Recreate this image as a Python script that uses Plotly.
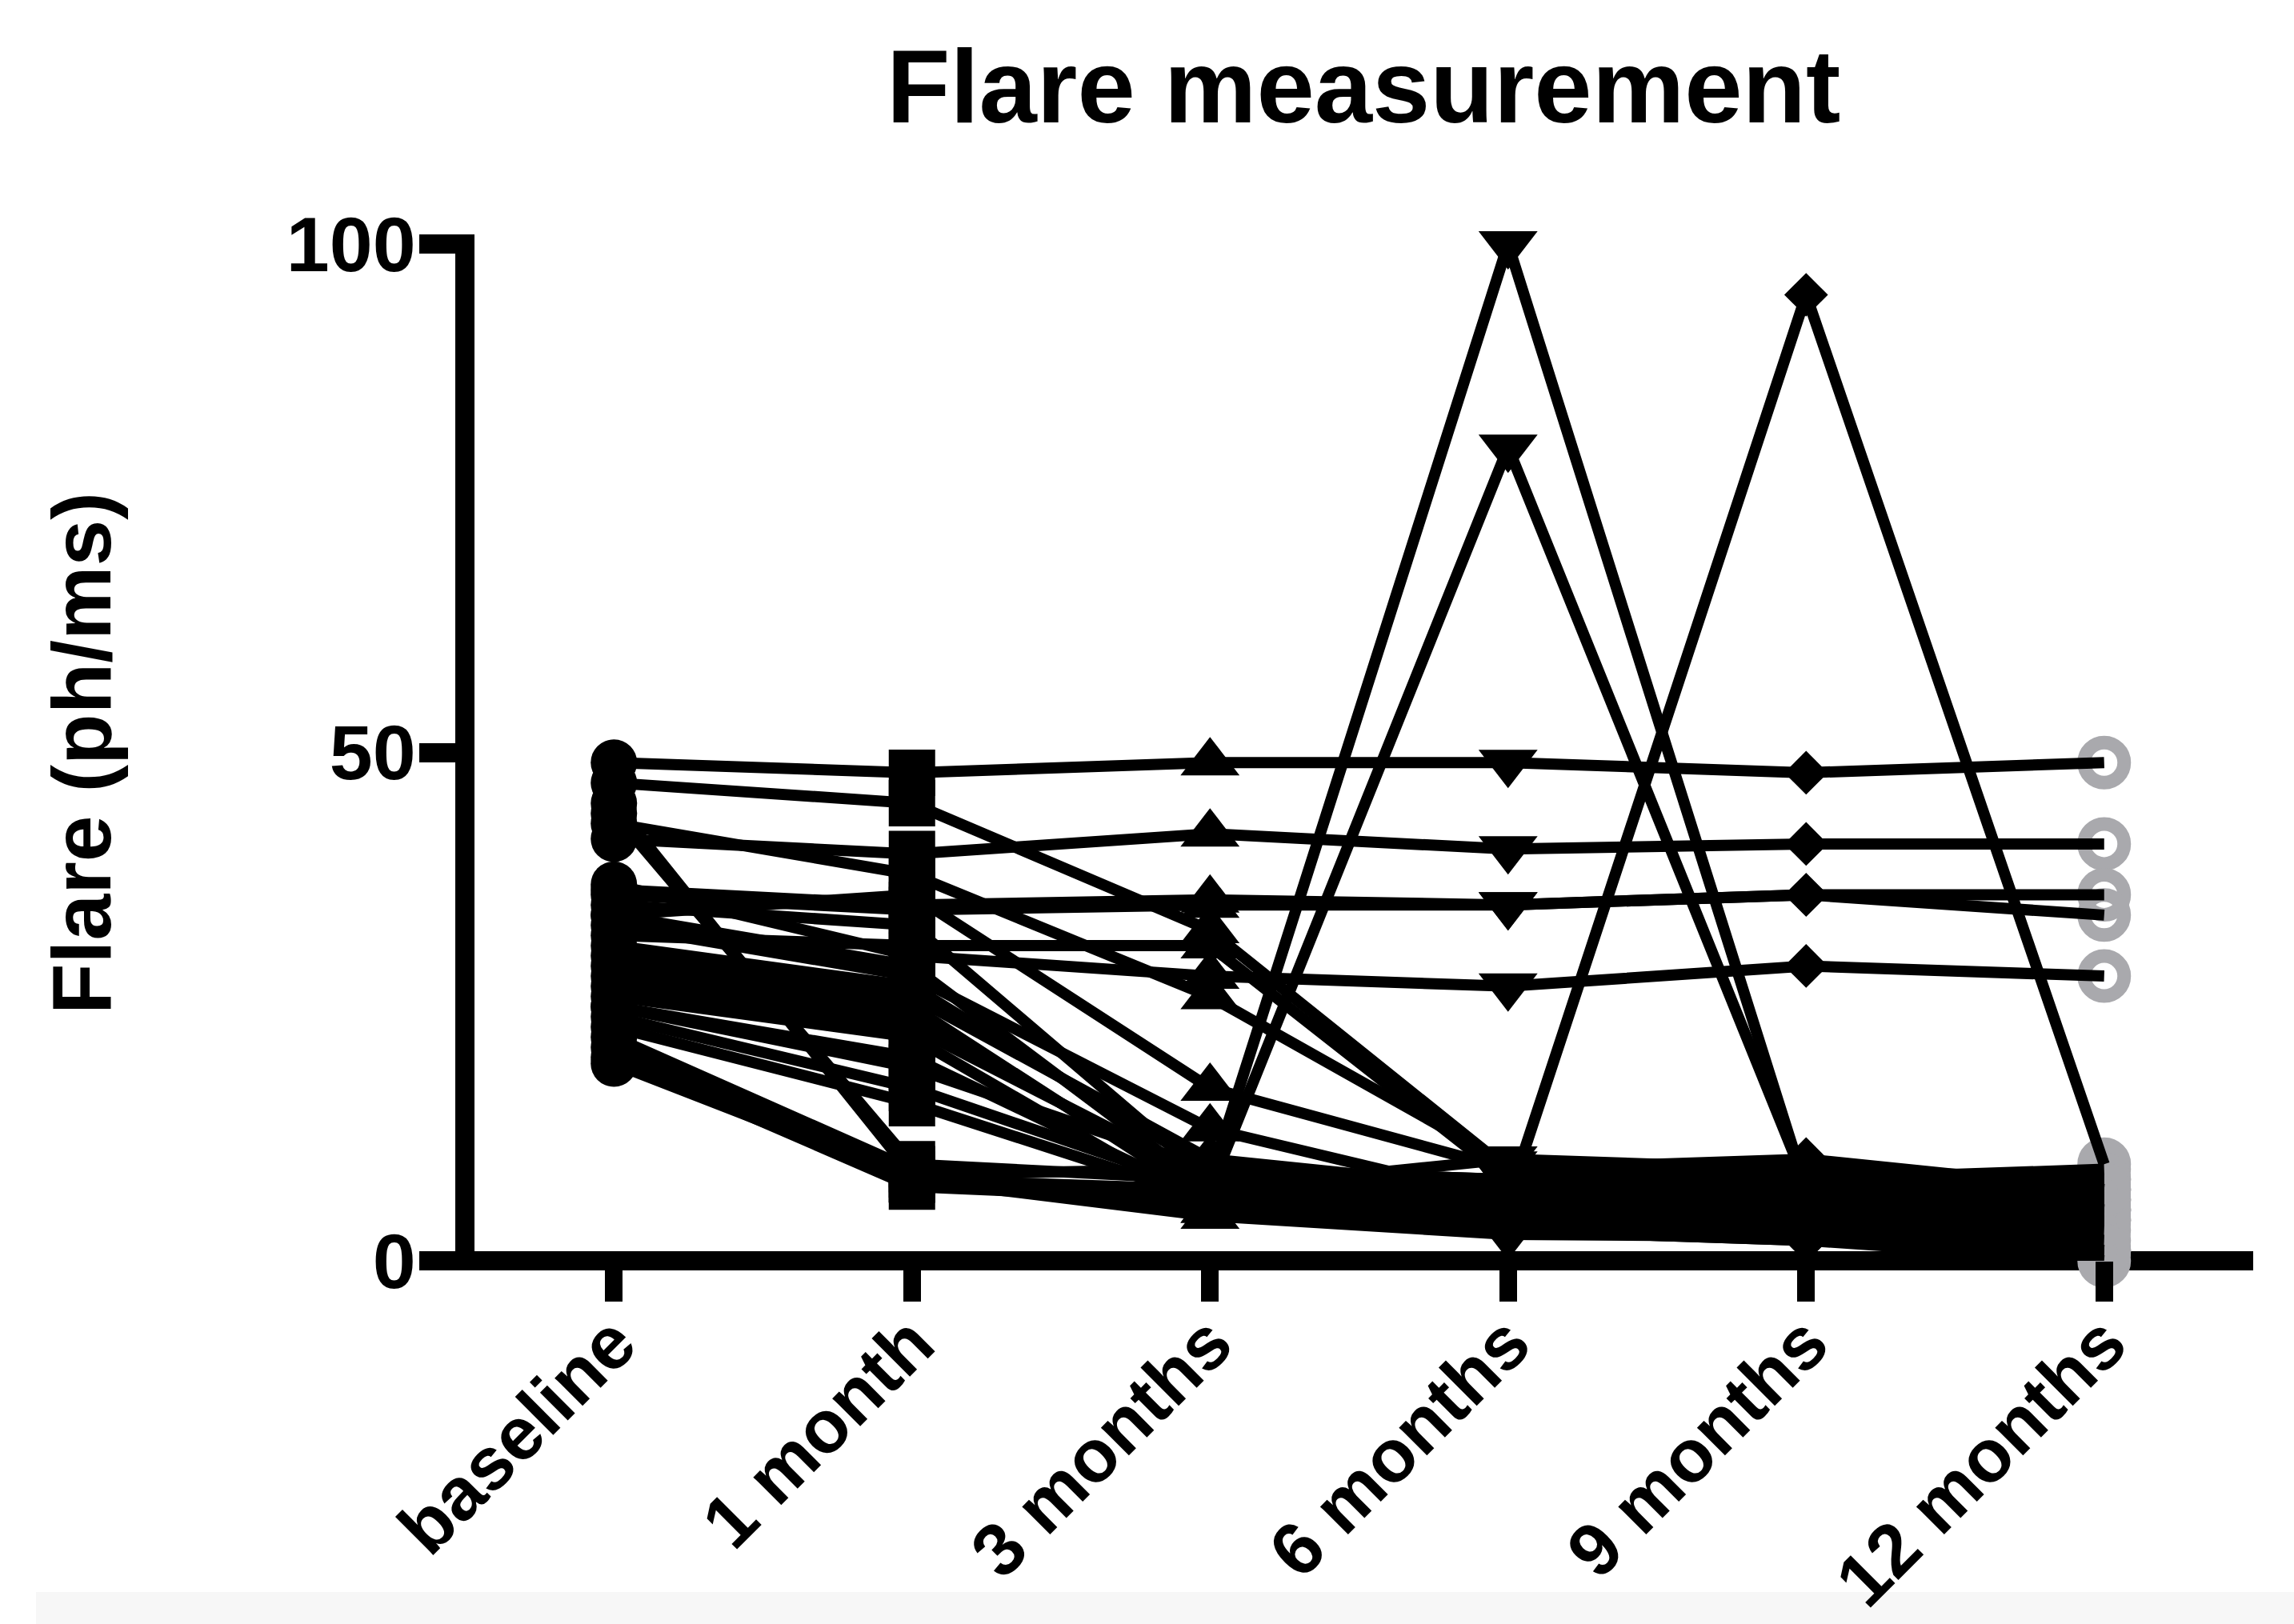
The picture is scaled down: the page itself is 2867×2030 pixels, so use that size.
import plotly.graph_objects as go

# ---------------- data ----------------
timepoints = ["baseline", "1 month", "3 months", "6 months", "9 months", "12 months"]

baseline = [49, 47, 41.5, 45, 44, 43, 36.5, 36, 37, 35, 34, 33, 32, 31, 30, 29, 28, 27,
            26, 25, 25, 24, 23, 22, 21, 20, 19.4, 34]
month1 = [48, 45, 40, 8.5, 9.5, 38, 35, 34.5, 30, 33, 29, 28, 31, 27, 26, 25, 24, 23,
          22, 20, 19, 17, 15.5, 9, 8, 7.3, 8, 36]
month3 = [49, 32.5, 42, 9, 8, 26, 35.5, 35, 28, 8, 7, 13, 31, 9, 10, 6, 7, 8,
          5, 6, 9, 7, 6, 5, 4.4, 6, 7, 17]
month6 = [49, 9, 40.5, 8, 7, 9.5, 35, 35, 27, 100, 80, 6, 8, 6, 7, 5, 4, 6,
          4, 3, 8, 5, 4, 3, 2.6, 5, 10, 9]
month9 = [48, 7, 41, 6, 5, 8, 36, 36, 29, 7, 7.5, 95, 6, 5, 6, 4, 3, 5,
          3, 2, 7, 6, 4, 2, 2.4, 8, 9, 10]
month12 = [49, 6, 41, 5, 4, 7, 36, 34, 28, 6, 5, 9.5, 5, 4, 7, 3, 1, 6,
           2, 0, 8, 5, 4, 1, 1, 9, 8, 7]

series = [baseline, month1, month3, month6, month9, month12]
x_pos = list(range(len(timepoints)))

FONT = "Liberation Sans, Arial, Helvetica, sans-serif"
BLACK = "#000000"
GREY = "#a9a9ad"

fig = go.Figure()

# 12-month open grey circles (drawn first so the black lines lie on top)
fig.add_trace(go.Scatter(
    x=[x_pos[5]] * len(month12), y=month12, mode="markers",
    marker=dict(symbol="circle-open", size=50, color=GREY, opacity=1,
                line=dict(color=GREY, width=17)),
    cliponaxis=False, showlegend=False, hoverinfo="skip"))

symbols = ["circle", "square", "triangle-up", "triangle-down", "diamond", "circle"]
sizes = [58, 58, 64, 64, 42, 0]

n_subj = len(baseline)
for i in range(n_subj):
    ys = [s[i] for s in series]
    fig.add_trace(go.Scatter(
        x=x_pos, y=ys, mode="lines+markers",
        line=dict(color=BLACK, width=14),
        marker=dict(symbol=symbols, size=sizes, color=BLACK, opacity=1, line=dict(width=0)),
        cliponaxis=False, showlegend=False, hoverinfo="skip"))

# ---------------- layout ----------------
W, H = 2867, 2030
L, R, T, B = 581, 51, 305, 454
pw, ph = W - L - R, H - T - B

shapes = [
    # faint grey strip at the very bottom of the picture
    dict(type="rect", xref="paper", yref="paper",
         x0=(45 - L) / pw, x1=(W - L) / pw, y0=(T + ph - H) / ph, y1=(T + ph - 1990) / ph,
         fillcolor="#f7f7f7", line=dict(width=0), layer="below"),
    # x axis line (at y = 0)
    dict(type="line", xref="paper", yref="paper", x0=-56 / pw, x1=1.0, y0=0, y1=0,
         line=dict(color=BLACK, width=24), layer="below"),
    # y axis line
    dict(type="line", xref="paper", yref="paper", x0=0, x1=0, y0=-12 / ph, y1=1 + 12 / ph,
         line=dict(color=BLACK, width=24), layer="below"),
]

fig.update_layout(
    template="none",
    width=W, height=H, autosize=False,
    margin=dict(l=L, r=R, t=T, b=B, pad=0, autoexpand=False),
    paper_bgcolor="white", plot_bgcolor="rgba(0,0,0,0)",
    showlegend=False,
    shapes=shapes,
    font=dict(family=FONT, color=BLACK),
    xaxis=dict(
        range=[-0.5, 5.5], tickmode="array", tickvals=x_pos, ticktext=timepoints,
        tickangle=-45, ticks="outside", ticklen=50, tickwidth=22, tickcolor=BLACK,
        ticklabelstandoff=-40, automargin=False,
        showline=False, showgrid=False, zeroline=False,
        tickfont=dict(family=FONT, size=93, color=BLACK, weight="bold"),
    ),
    yaxis=dict(
        range=[0, 100], tickmode="array", tickvals=[0, 50, 100], ticktext=["0", "50", "100"],
        ticks="outside", ticklen=56, tickwidth=24, tickcolor=BLACK,
        ticklabelstandoff=-15, automargin=False,
        showline=False, showgrid=False, zeroline=False,
        tickfont=dict(family=FONT, size=97, color=BLACK, weight="bold"),
    ),
    annotations=[
        dict(text="Flare measurement", xref="paper", yref="paper",
             x=(1704 - L) / pw, y=(T + ph - 108) / ph, xanchor="center", yanchor="middle",
             showarrow=False, font=dict(family=FONT, size=130, color=BLACK, weight="bold")),
        dict(text="Flare (ph/ms)", xref="paper", yref="paper",
             x=(102 - L) / pw, y=(T + ph - 942) / ph, xanchor="center", yanchor="middle",
             textangle=-90, showarrow=False,
             font=dict(family=FONT, size=104, color=BLACK, weight="bold")),
    ],
)

fig.write_html("out.html",
               config={"displayModeBar": False, "staticPlot": True},
               post_script="document.body.style.margin='0';document.body.style.overflow='hidden';")
